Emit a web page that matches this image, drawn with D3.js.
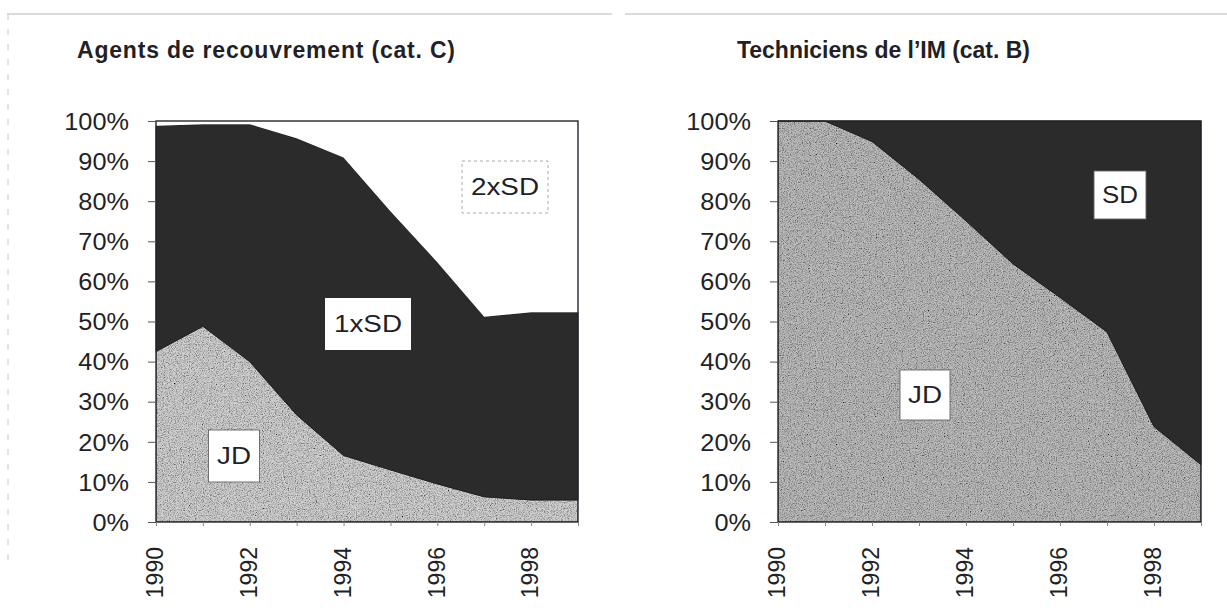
<!DOCTYPE html>
<html>
<head>
<meta charset="utf-8">
<script src="https://cdn.jsdelivr.net/npm/d3@7"></script>
<style>
  body { margin: 0; background: #fff; }
  svg { display: block; font-family: "Liberation Sans", Arial, sans-serif; }
</style>
</head>
<body>
<svg id="canvas" width="1227" height="615"></svg>
<script>
// data (percent of staff)
const years = [1990, 1991, 1992, 1993, 1994, 1995, 1996, 1997, 1998, 1999];
const yearLabels = [1990, 1992, 1994, 1996, 1998];
const pctTicks = [0, 10, 20, 30, 40, 50, 60, 70, 80, 90, 100];

// Agents de recouvrement (cat. C)
const agentsJD   = [42.5, 48.8, 40.0, 26.7, 16.6, 13.0, 9.5, 6.3, 5.5, 5.5];
const agents1xSD = [56.3, 50.4, 59.2, 69.0, 74.3, 64.5, 55.3, 44.9, 46.8, 46.8];
const agents2xSD = [1.2, 0.8, 0.8, 4.3, 9.1, 22.5, 35.2, 48.8, 47.7, 47.7];

// Techniciens de l'IM (cat. B)
const techJD = [100, 100, 94.9, 85.5, 75.1, 64.4, 56.0, 47.4, 23.8, 14.3];
const techSD = [0, 0, 5.1, 14.5, 24.9, 35.6, 44.0, 52.6, 76.2, 85.7];

const INK = '#231f26';

const svg = d3.select('svg#canvas');

// grainy texture for the light-grey (JD) areas, like the photocopy
const defs = svg.append('defs');
const grain = defs.append('filter')
  .attr('id', 'grain')
  .attr('x', 0).attr('y', 0).attr('width', 1).attr('height', 1);
grain.append('feTurbulence')
  .attr('type', 'fractalNoise')
  .attr('baseFrequency', 0.85)
  .attr('numOctaves', 2)
  .attr('seed', 7)
  .attr('result', 'n');
grain.append('feColorMatrix')
  .attr('in', 'n')
  .attr('type', 'matrix')
  .attr('values', '0 0 0 0 0  0 0 0 0 0  0 0 0 0 0  1.1 1.1 1.1 0 -1.45')
  .attr('result', 'dots');
grain.append('feComposite')
  .attr('in', 'dots').attr('in2', 'SourceGraphic')
  .attr('operator', 'in').attr('result', 'clipped');
const merge = grain.append('feMerge');
merge.append('feMergeNode').attr('in', 'SourceGraphic');
merge.append('feMergeNode').attr('in', 'clipped');

// faint outer frames of the two scanned charts
svg.append('line')
  .attr('x1', 7).attr('x2', 612).attr('y1', 14).attr('y2', 14)
  .attr('stroke', '#b8b8b8').attr('stroke-width', 1.2);
svg.append('line')
  .attr('x1', 625).attr('x2', 1227).attr('y1', 14).attr('y2', 14)
  .attr('stroke', '#b8b8b8').attr('stroke-width', 1.2);
svg.append('line')
  .attr('x1', 8).attr('x2', 8).attr('y1', 14).attr('y2', 560)
  .attr('stroke', '#c8c8c8').attr('stroke-width', 1)
  .attr('stroke-dasharray', '6,9');

function stretch(sel, k) {
  sel.each(function () {
    const len = this.getComputedTextLength();
    d3.select(this).attr('textLength', len * k).attr('lengthAdjust', 'spacingAndGlyphs');
  });
}

function drawChart(cfg) {
  const g = svg.append('g');

  const x = d3.scaleLinear().domain([years[0], years[years.length - 1]]).range([cfg.x0, cfg.x1]);
  const y = d3.scaleLinear().domain([0, 100]).range([cfg.y1, cfg.y0]);

  const rows = years.map((yr, i) => {
    const r = { year: yr };
    cfg.series.forEach(s => { r[s.key] = s.values[i]; });
    return r;
  });
  const stacked = d3.stack().keys(cfg.series.map(s => s.key))(rows);

  const area = d3.area()
    .x(d => x(d.data.year))
    .y0(d => y(d[0]))
    .y1(d => y(d[1]));

  g.selectAll('path.layer')
    .data(stacked)
    .join('path')
    .attr('class', 'layer')
    .attr('d', area)
    .attr('fill', (d, i) => cfg.series[i].fill)
    .attr('filter', (d, i) => cfg.series[i].grain ? 'url(#grain)' : null)
    .attr('stroke', (d, i) => cfg.series[i].fill === '#fff' ? 'none' : '#1a1a1a')
    .attr('stroke-width', 0.8)
    .attr('stroke-linejoin', 'round');

  // plot frame
  g.append('rect')
    .attr('x', cfg.x0).attr('y', cfg.y0)
    .attr('width', cfg.x1 - cfg.x0).attr('height', cfg.y1 - cfg.y0)
    .attr('fill', 'none').attr('stroke', '#2a2230').attr('stroke-width', 1.4);

  // y axis
  const yAxis = g.append('g')
    .attr('transform', `translate(${cfg.x0},0)`)
    .call(d3.axisLeft(y).tickValues(pctTicks).tickFormat(d => d + '%').tickSize(8).tickPadding(19));
  yAxis.select('.domain').remove();
  yAxis.selectAll('.tick line').attr('stroke', '#555').attr('stroke-width', 1);
  yAxis.selectAll('.tick text')
    .attr('fill', INK).attr('font-size', 23)
    .attr('font-family', '"Liberation Sans", Arial, sans-serif')
    .attr('dy', '0.36em')
    .call(stretch, 1.1);

  // x axis: small ticks each year, labels every second year, turned upright
  const xAxis = g.append('g')
    .attr('transform', `translate(0,${cfg.y1})`)
    .call(d3.axisBottom(x).tickValues(years).tickSize(4).tickFormat(''));
  xAxis.select('.domain').remove();
  xAxis.selectAll('.tick line').attr('stroke', '#888');

  g.selectAll('text.year')
    .data(yearLabels)
    .join('text')
    .attr('class', 'year')
    .attr('transform', d => `translate(${x(d) - 1},${cfg.y1 + 25}) rotate(-90)`)
    .attr('text-anchor', 'end')
    .attr('dy', '0.36em')
    .attr('font-size', 23)
    .attr('fill', INK)
    .text(d => d);

  // title
  svg.append('text')
    .attr('x', cfg.titleX).attr('y', 58)
    .attr('font-size', 23).attr('font-weight', 'bold')
    .attr('fill', INK)
    .attr('textLength', cfg.titleW).attr('lengthAdjust', 'spacing')
    .text(cfg.title);

  // series labels in white boxes
  cfg.labels.forEach(lb => {
    g.append('rect')
      .attr('x', lb.cx - lb.w / 2).attr('y', lb.cy - lb.h / 2)
      .attr('width', lb.w).attr('height', lb.h)
      .attr('fill', '#fff')
      .attr('stroke', lb.border || 'none')
      .attr('stroke-width', 0.9)
      .attr('stroke-dasharray', lb.dashed ? '3,3' : null);
    g.append('text')
      .attr('x', lb.cx).attr('y', lb.cy)
      .attr('text-anchor', 'middle').attr('dy', '0.36em')
      .attr('font-size', 23).attr('fill', INK)
      .attr('textLength', lb.tw).attr('lengthAdjust', 'spacingAndGlyphs')
      .text(lb.text);
  });
}

drawChart({
  title: 'Agents de recouvrement (cat. C)',
  titleX: 77, titleW: 378,
  x0: 156, x1: 578, y0: 121, y1: 522,
  series: [
    { key: 'JD', values: agentsJD, fill: '#d2d2d2', grain: true },
    { key: '1xSD', values: agents1xSD, fill: '#2b2b2b' },
    { key: '2xSD', values: agents2xSD, fill: '#fff' }
  ],
  labels: [
    { text: '2xSD', cx: 505, cy: 187, w: 86, h: 52, tw: 68, border: '#a0a0a0', dashed: true },
    { text: '1xSD', cx: 368, cy: 324, w: 86, h: 52, tw: 68 },
    { text: 'JD', cx: 234, cy: 456, w: 51, h: 52, tw: 34, border: '#666' }
  ]
});

drawChart({
  title: 'Techniciens de l\u2019IM (cat. B)',
  titleX: 737, titleW: 293,
  x0: 778, x1: 1201, y0: 121, y1: 522,
  series: [
    { key: 'JD', values: techJD, fill: '#bdbdbd', grain: true },
    { key: 'SD', values: techSD, fill: '#2b2b2b' }
  ],
  labels: [
    { text: 'SD', cx: 1120, cy: 195, w: 52, h: 48, tw: 36, border: '#666' },
    { text: 'JD', cx: 925, cy: 395, w: 50, h: 50, tw: 34, border: '#666' }
  ]
});
</script>
</body>
</html>
